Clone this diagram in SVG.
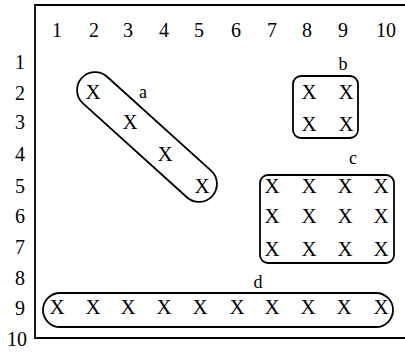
<svg xmlns="http://www.w3.org/2000/svg" width="405" height="352" viewBox="0 0 405 352">
<style>
text{font-family:"Liberation Serif","Times New Roman",serif;fill:#000}
.n{font-size:20px;text-anchor:middle}
.x{font-size:21px;text-anchor:middle}
.l{font-size:18px;text-anchor:middle}
.s{fill:none;stroke:#000;stroke-width:1.8}
</style>
<rect width="405" height="352" fill="#fff"/>
<g id="frame">
<path class="s" d="M405 5 H35 V338 H405"/>
</g>
<g id="colLabels">
<text class="n" x="57" y="37">1</text><text class="n" x="94" y="37">2</text><text class="n" x="128" y="37">3</text><text class="n" x="164" y="37">4</text><text class="n" x="199" y="37">5</text><text class="n" x="236" y="37">6</text><text class="n" x="272" y="37">7</text><text class="n" x="307" y="37">8</text><text class="n" x="343" y="37">9</text><text class="n" x="386" y="37">10</text>
</g>
<g id="rowLabels">
<text class="n" x="20" y="69">1</text><text class="n" x="20" y="100">2</text><text class="n" x="20" y="129">3</text><text class="n" x="20" y="161">4</text><text class="n" x="20" y="193">5</text><text class="n" x="20" y="223">6</text><text class="n" x="20" y="254">7</text><text class="n" x="20" y="285">8</text><text class="n" x="20" y="315">9</text><text class="n" x="17" y="346">10</text>
</g>
<g id="a">
<rect class="s" x="-88" y="-18" width="176" height="36" rx="18" transform="translate(147 137) rotate(42.1)"/>
<text class="x" x="93" y="99">X</text><text class="x" x="130" y="129">X</text><text class="x" x="165" y="161">X</text><text class="x" x="202" y="193">X</text>
<text class="l" x="143" y="98">a</text>
</g>
<g id="b">
<rect class="s" x="293" y="76" width="65" height="62" rx="8"/>
<text class="x" x="309" y="99">X</text><text class="x" x="346" y="99">X</text><text class="x" x="309" y="131">X</text><text class="x" x="346" y="131">X</text>
<text class="l" x="343" y="70">b</text>
</g>
<g id="c">
<rect class="s" x="260" y="175" width="134" height="88" rx="8"/>
<text class="x" x="272" y="193">X</text><text class="x" x="309" y="193">X</text><text class="x" x="345" y="193">X</text><text class="x" x="381" y="193">X</text>
<text class="x" x="272" y="223">X</text><text class="x" x="309" y="223">X</text><text class="x" x="345" y="223">X</text><text class="x" x="381" y="223">X</text>
<text class="x" x="272" y="256">X</text><text class="x" x="309" y="256">X</text><text class="x" x="345" y="256">X</text><text class="x" x="381" y="256">X</text>
<text class="l" x="353" y="164">c</text>
</g>
<g id="d">
<rect class="s" x="43" y="293" width="350" height="34" rx="17"/>
<text class="x" x="57" y="314">X</text><text class="x" x="93" y="314">X</text><text class="x" x="128" y="314">X</text><text class="x" x="164" y="314">X</text><text class="x" x="200" y="314">X</text><text class="x" x="237" y="314">X</text><text class="x" x="272" y="314">X</text><text class="x" x="308" y="314">X</text><text class="x" x="344" y="314">X</text><text class="x" x="381" y="314">X</text>
<text class="l" x="258" y="288">d</text>
</g>
<g id="connectors"/>
</svg>
